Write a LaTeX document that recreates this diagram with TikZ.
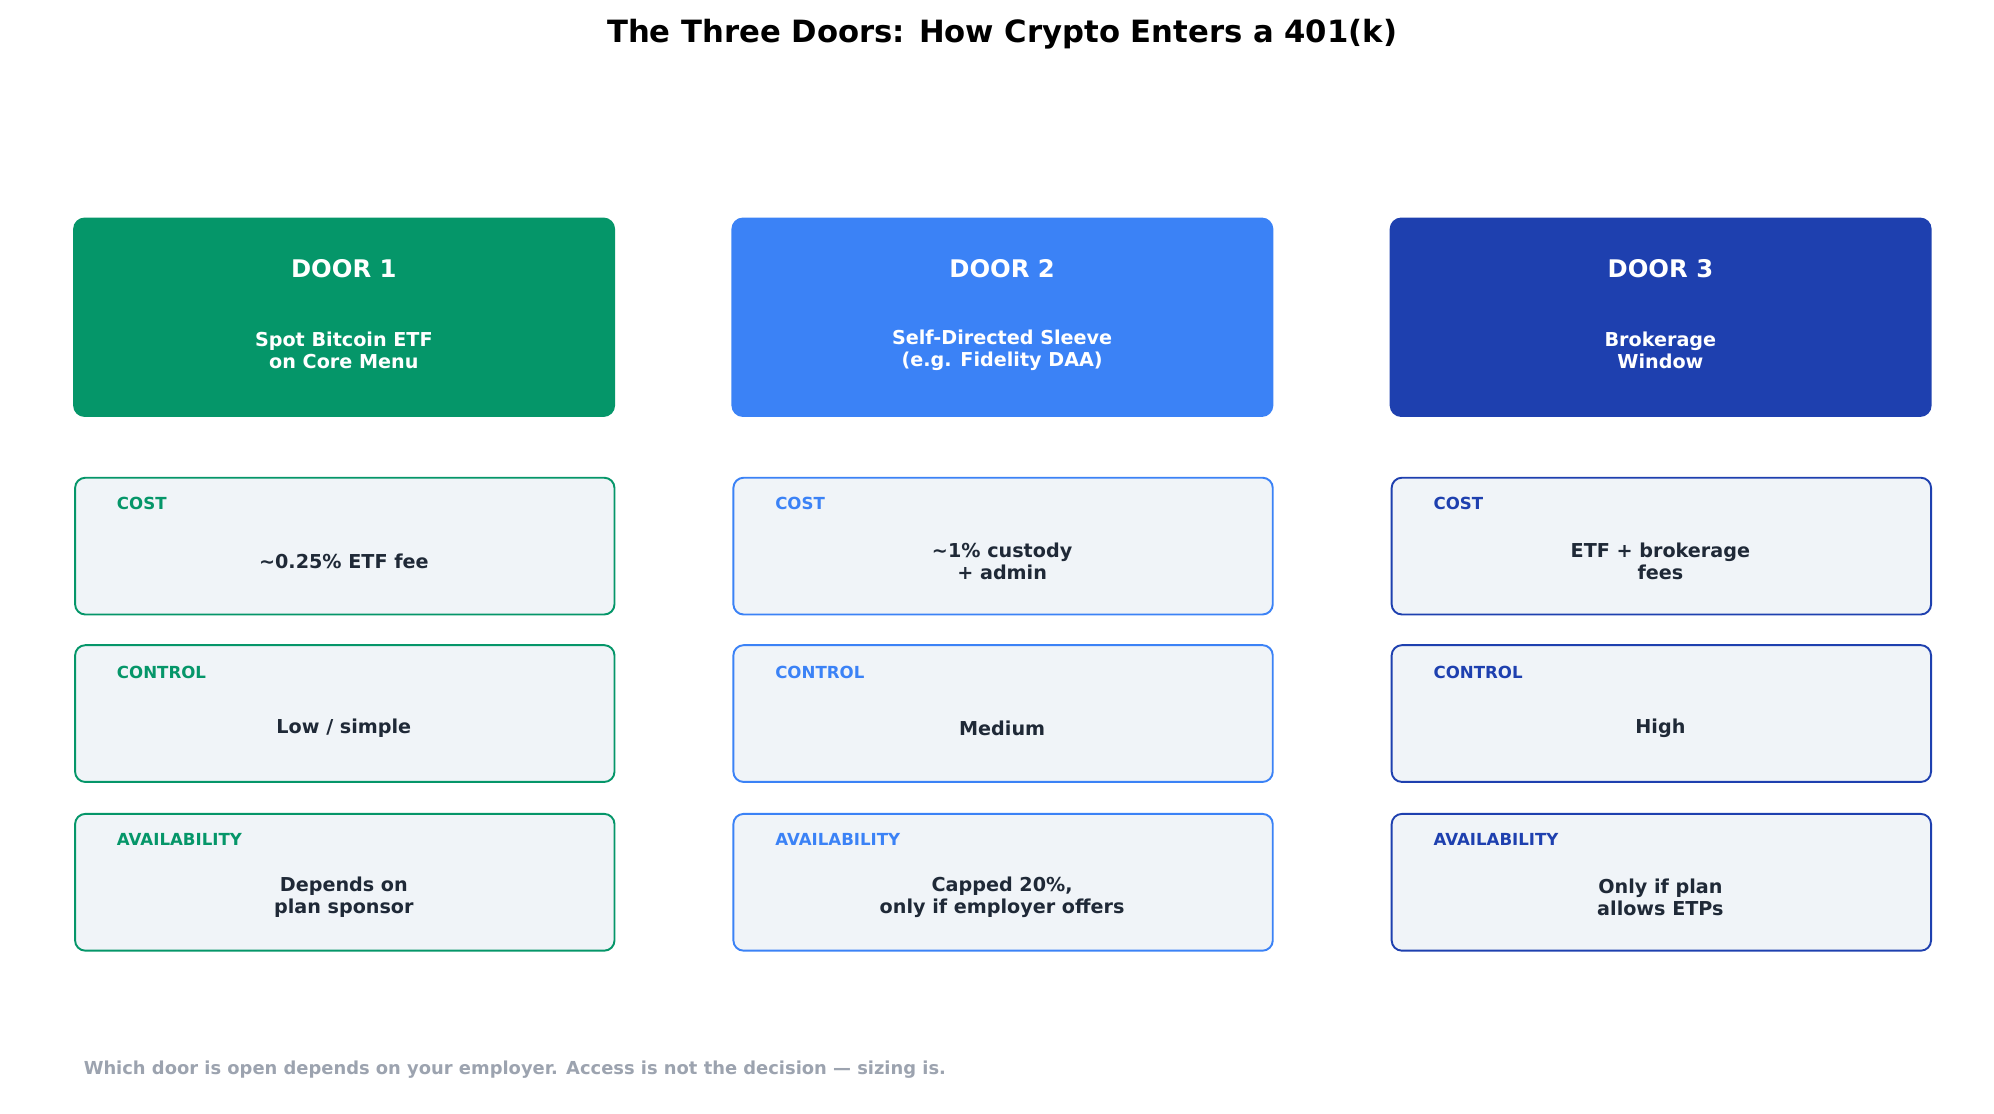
\documentclass[tikz,border=0pt]{standalone}
\usepackage{fontspec}
\setmainfont{DejaVu Sans}
\definecolor{cA}{HTML}{059669}
\definecolor{cB}{HTML}{3B82F6}
\definecolor{cC}{HTML}{1E40AF}
\definecolor{txt}{HTML}{1F2937}
\definecolor{pale}{HTML}{F0F4F8}
\definecolor{foot}{HTML}{9CA3AF}
\begin{document}
\begin{tikzpicture}[x=1pt,y=-1pt,
 head/.style={rounded corners=9pt,draw=none,minimum width=424pt,minimum height=156pt,anchor=north west,inner sep=0pt},
 card/.style={rounded corners=8pt,draw,line width=1.5pt,fill=pale,minimum width=422pt,minimum height=107pt,anchor=north west,inner sep=0pt},
 lab/.style={font=\fontsize{13}{15}\selectfont\bfseries,anchor=west},
 val/.style={font=\fontsize{15}{17.5}\selectfont\bfseries,text=txt,align=center},
 htit/.style={font=\fontsize{19}{22}\selectfont\bfseries,text=white},
 hsub/.style={font=\fontsize{15}{17}\selectfont\bfseries,text=white,align=center}]
\useasboundingbox (0,0) rectangle (1560,871.5);
\node[font=\fontsize{24}{28}\selectfont\bfseries] (title) at (784,27) {The Three Doors: How Crypto Enters a 401(k)};
\foreach \i/\c/\sub/\cost/\ctl/\av in {
 0/cA/{Spot Bitcoin ETF\\on Core Menu}/{\textasciitilde0.25\% ETF fee}/{Low / simple}/{Depends on\\plan sponsor},
 1/cB/{Self-Directed Sleeve\\(e.g. Fidelity DAA)}/{\textasciitilde1\% custody\\+ admin}/{Medium}/{Capped 20\%,\\only if employer offers},
 2/cC/{Brokerage\\Window}/{ETF + brokerage\\fees}/{High}/{Only if plan\\allows ETPs}}{
 \pgfmathsetmacro{\xo}{57+515*\i}
 \pgfmathtruncatemacro{\n}{\i+1}
 \node[head,fill=\c] (h\n) at (\xo,170) {};
 \node[htit] (ht\n) at (\xo+212,210) {DOOR \n};
 \node[hsub] (hs\n) at (\xo+212,274) {\sub};
 \node[card,draw=\c] (c\n) at (\xo+1,373) {};
 \node[lab,text=\c] (cl\n) at (\xo+31,394) {COST};
 \node[val] (cv\n) at (\xo+212,439) {\cost};
 \node[card,draw=\c] (k\n) at (\xo+1,504) {};
 \node[lab,text=\c] (kl\n) at (\xo+31,526) {CONTROL};
 \node[val] (kv\n) at (\xo+212,570) {\ctl};
 \node[card,draw=\c] (a\n) at (\xo+1,636) {};
 \node[lab,text=\c] (al\n) at (\xo+31,657) {AVAILABILITY};
 \node[val] (av\n) at (\xo+212,702) {\av};
}
\node[font=\fontsize{14}{17}\selectfont\bfseries,text=foot,anchor=west] (ft) at (62,837) {Which door is open depends on your employer. Access is not the decision — sizing is.};
\end{tikzpicture}
\end{document}
